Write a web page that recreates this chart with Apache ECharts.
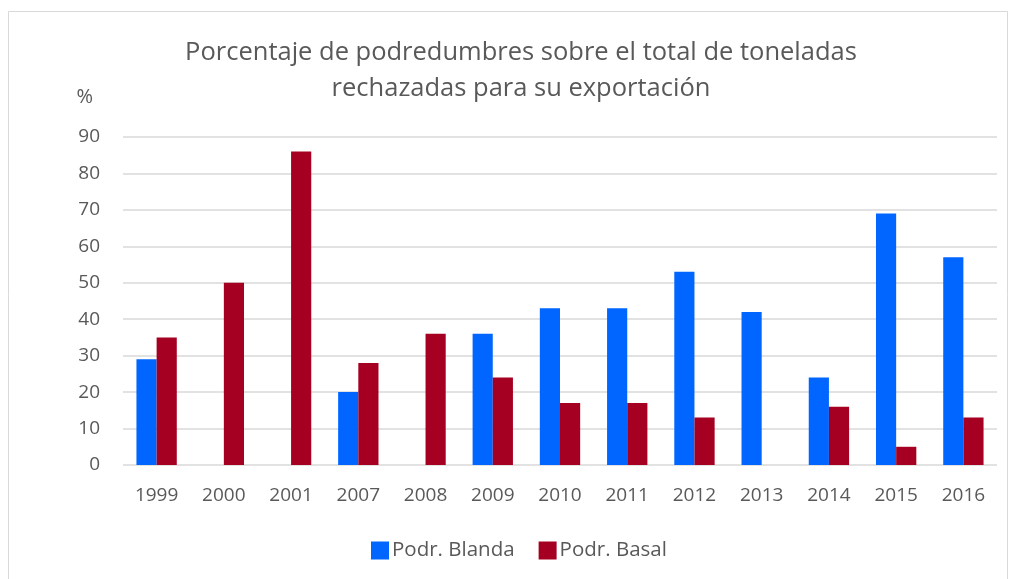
<!DOCTYPE html>
<html><head><meta charset="utf-8">
<script src="https://cdn.jsdelivr.net/npm/echarts@6/dist/echarts.min.js"></script>
<style>html,body{margin:0;padding:0;background:#fff}#c{width:1012px;height:579px}</style>
</head><body><div id="c"></div>
<script>
var categories = ['1999','2000','2001','2007','2008','2009','2010','2011','2012','2013','2014','2015','2016'];
var blanda = [29, null, null, 20, null, 36, 43, 43, 53, 42, 24, 69, 57];
var basal  = [35, 50, 86, 28, 36, 24, 17, 17, 13, null, 16, 5, 13];
var yTicks = [0, 10, 20, 30, 40, 50, 60, 70, 80, 90];

var FONT = 'Open Sans';
var chart = echarts.init(document.getElementById('c'));
chart.setOption({
  animation: false,
  textStyle: {fontFamily: FONT},
  graphic: [{
    type: 'rect', shape: {x: 8.5, y: 11.5, width: 999, height: 600},
    style: {fill: 'none', stroke: '#d9d9d9', lineWidth: 1}, silent: true
  }],
  title: {
    text: 'Porcentaje de podredumbres sobre el total de toneladas\nrechazadas para su exportación',
    left: 516, top: 30, textAlign: 'center',
    textStyle: {fontFamily: FONT, fontSize: 25.5, fontWeight: 'normal', color: '#595959', lineHeight: 36}
  },
  legend: {
    data: ['Podr. Blanda', 'Podr. Basal'],
    left: 366, top: 535, itemWidth: 18, itemHeight: 18, itemGap: 24,
    textStyle: {fontFamily: FONT, fontSize: 20.5, color: '#595959', padding: [0, 0, 0, -2]},
    icon: 'rect'
  },
  grid: {left: 123, right: 15, top: 137, bottom: 114},
  xAxis: {
    type: 'category', data: categories,
    axisLine: {show: false}, axisTick: {show: false},
    axisLabel: {fontFamily: FONT, fontSize: 19, color: '#595959', margin: 21}
  },
  yAxis: {
    type: 'value', min: 0, max: 90, interval: 10,
    name: '%', nameLocation: 'end', nameGap: 30,
    nameTextStyle: {fontFamily: FONT, fontSize: 20, color: '#595959', align: 'right', padding: [0, 30, 0, 0]},
    axisLine: {show: false}, axisTick: {show: false},
    axisLabel: {fontFamily: FONT, fontSize: 19, color: '#595959', margin: 23,
      formatter: function (v) { return yTicks.indexOf(v) >= 0 ? String(v) : ''; }},
    splitLine: {lineStyle: {color: '#d9d9d9', width: 1.5}}
  },
  series: [
    {name: 'Podr. Blanda', type: 'bar', data: blanda, barGap: '0%', barCategoryGap: '40%',
     itemStyle: {color: '#0066FF'}},
    {name: 'Podr. Basal', type: 'bar', data: basal, barGap: '0%', barCategoryGap: '40%',
     itemStyle: {color: '#A50021'}}
  ]
});
</script></body></html>
